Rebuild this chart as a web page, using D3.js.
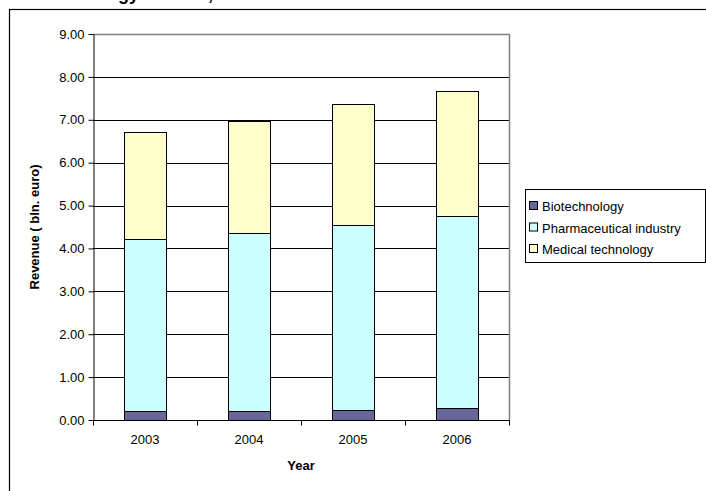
<!DOCTYPE html>
<html>
<head>
<meta charset="utf-8">
<script src="https://cdn.jsdelivr.net/npm/d3@7"></script>
<style>
  body { margin: 0; background: #fff; }
  svg { display: block; }
  text { font-family: Arial, "Liberation Sans", sans-serif; }
</style>
</head>
<body>
<div id="chart"></div>
<script>
// data
var years = ["2003", "2004", "2005", "2006"];
var seriesNames = ["Biotechnology", "Pharmaceutical industry", "Medical technology"];
var biotech = [0.21, 0.21, 0.24, 0.27];
var pharma = [4.01, 4.14, 4.31, 4.49];
var medtech = [2.50, 2.62, 2.82, 2.90];
var yTicks = [0, 1, 2, 3, 4, 5, 6, 7, 8, 9];
var colors = ["#666699", "#CCFFFF", "#FFFFCC"];

var width = 706, height = 491;
var plot = { left: 93, right: 509, top: 34, bottom: 420 };

var svg = d3.select("#chart")
    .append("svg")
    .attr("width", width)
    .attr("height", height);

// outer chart border (runs off the window on the right and bottom)
svg.append("rect")
    .attr("x", 9.5).attr("y", 9.5)
    .attr("width", 720).attr("height", 500)
    .attr("fill", "none")
    .attr("stroke", "#000")
    .attr("stroke-width", 1.2);

// title is cut off by the top of the window, only descenders show
var title = svg.append("text")
    .attr("y", -0.5)
    .attr("font-size", 18)
    .attr("font-weight", "bold")
    .text("Life sciences technology sectors, 2003 - 2006");
var gIdx = title.text().indexOf("gy");
var off = title.node().getSubStringLength(0, gIdx);
title.attr("x", 118 - off);

var x = d3.scaleBand()
    .domain(years)
    .range([plot.left, plot.right])
    .paddingInner(0.6)
    .paddingOuter(0.3);

var y = d3.scaleLinear()
    .domain([0, 9])
    .range([plot.bottom, plot.top]);

// gridlines
svg.append("g")
    .selectAll("line")
    .data(yTicks.slice(1, -1))
    .enter().append("line")
    .attr("x1", plot.left).attr("x2", plot.right)
    .attr("y1", function (d) { return Math.round(y(d)) + 0.5; })
    .attr("y2", function (d) { return Math.round(y(d)) + 0.5; })
    .attr("stroke", "#000")
    .attr("stroke-width", 1);

// plot area border top / right (grey)
svg.append("path")
    .attr("d", "M" + plot.left + "," + (plot.top + 0.5) + "H" + (plot.right + 0.5) + "V" + plot.bottom)
    .attr("fill", "none")
    .attr("stroke", "#808080")
    .attr("stroke-width", 1.5);

// stacked bars
var stackData = years.map(function (yr, i) {
    return { year: yr, b: biotech[i], p: pharma[i], m: medtech[i] };
});
var stack = d3.stack().keys(["b", "p", "m"])(stackData);

svg.append("g")
    .selectAll("g")
    .data(stack)
    .enter().append("g")
    .attr("fill", function (d, i) { return colors[i]; })
    .selectAll("rect")
    .data(function (d) { return d; })
    .enter().append("rect")
    .attr("x", function (d) { return Math.round(x(d.data.year)) + 0.5; })
    .attr("y", function (d) { return Math.round(y(d[1])) + 0.5; })
    .attr("width", Math.round(x.bandwidth()))
    .attr("height", function (d) { return Math.round(y(d[0])) - Math.round(y(d[1])); })
    .attr("stroke", "#000")
    .attr("stroke-width", 1);

// Y axis
svg.append("g")
    .attr("transform", "translate(" + (plot.left + 0.5) + ",0)")
    .call(d3.axisLeft(y).tickValues(yTicks).tickFormat(d3.format(".2f")).tickSize(5).tickSizeOuter(0))
    .call(function (g) {
        g.select(".domain").attr("stroke", "#000");
        g.selectAll("text").attr("font-size", 13).attr("fill", "#000")
            .attr("font-family", "Arial, 'Liberation Sans', sans-serif").attr("dx", -1);
    });

// X axis with ticks between categories
var xAxisG = svg.append("g")
    .attr("transform", "translate(0," + (plot.bottom + 0.5) + ")");
xAxisG.append("line")
    .attr("x1", plot.left).attr("x2", plot.right + 1)
    .attr("stroke", "#000");
var bounds = d3.range(years.length + 1).map(function (i) {
    return plot.left + (plot.right - plot.left) * i / years.length;
});
xAxisG.selectAll(".tick")
    .data(bounds)
    .enter().append("line")
    .attr("x1", function (d) { return Math.round(d) + 0.5; })
    .attr("x2", function (d) { return Math.round(d) + 0.5; })
    .attr("y1", 0).attr("y2", 5)
    .attr("stroke", "#000");
xAxisG.selectAll(".lbl")
    .data(years)
    .enter().append("text")
    .attr("x", function (d) { return x(d) + x.bandwidth() / 2; })
    .attr("y", 23)
    .attr("text-anchor", "middle")
    .attr("font-size", 13)
    .text(function (d) { return d; });

// axis titles
svg.append("text")
    .attr("x", (plot.left + plot.right) / 2)
    .attr("y", 470)
    .attr("text-anchor", "middle")
    .attr("font-size", 13)
    .attr("font-weight", "bold")
    .text("Year");

svg.append("text")
    .attr("transform", "translate(39," + ((plot.top + plot.bottom) / 2) + ") rotate(-90)")
    .attr("text-anchor", "middle")
    .attr("font-size", 13)
    .attr("font-weight", "bold")
    .text("Revenue ( bln. euro)");

// legend
var legend = svg.append("g");
legend.append("rect")
    .attr("x", 525.5).attr("y", 189.5)
    .attr("width", 180).attr("height", 73)
    .attr("fill", "#fff")
    .attr("stroke", "#000");
var items = legend.selectAll(".item")
    .data(seriesNames)
    .enter().append("g")
    .attr("transform", function (d, i) { return "translate(529," + (206 + i * 21.5) + ")"; });
items.append("rect")
    .attr("x", 0.5).attr("y", -4.5)
    .attr("width", 8).attr("height", 8)
    .attr("fill", function (d, i) { return colors[i]; })
    .attr("stroke", "#000");
items.append("text")
    .attr("x", 13)
    .attr("y", 5)
    .attr("font-size", 13)
    .text(function (d) { return d; });
</script>
</body>
</html>
